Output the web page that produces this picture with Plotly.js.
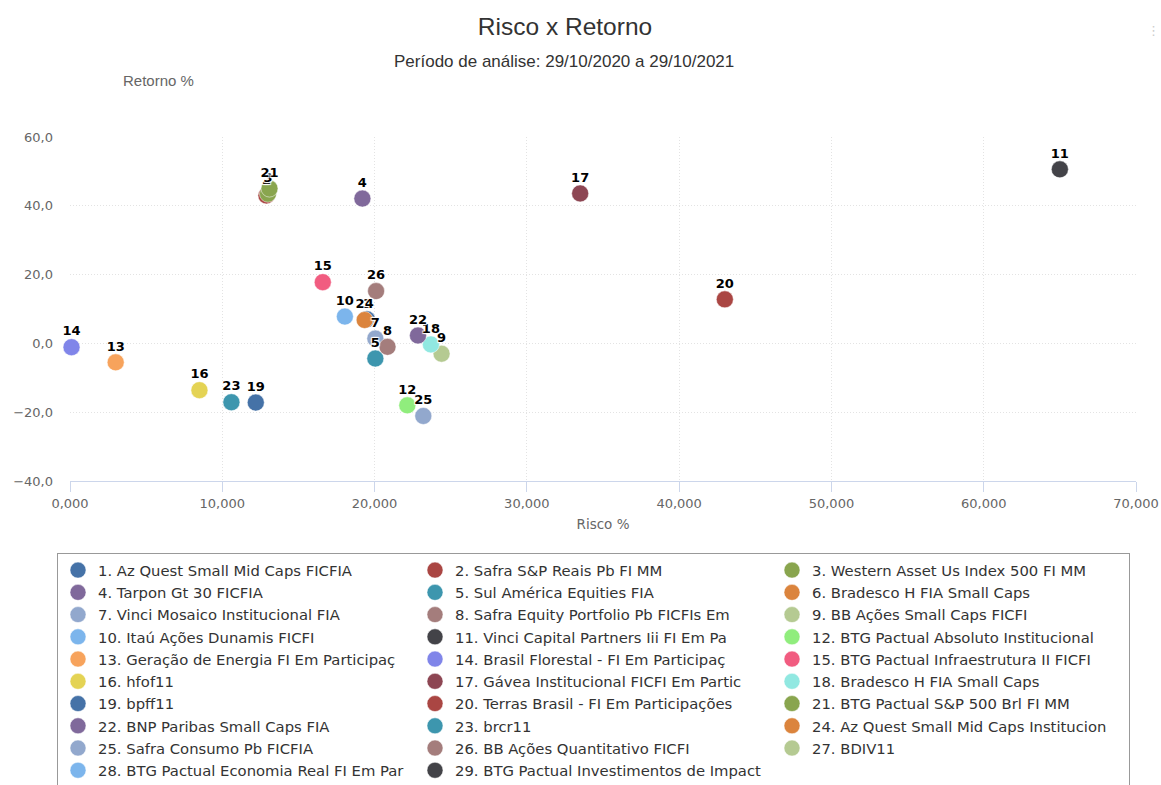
<!DOCTYPE html>
<html>
<head>
<meta charset="utf-8">
<script src="https://cdn.plot.ly/plotly-3.0.1.min.js"></script>
<style>
  html, body { margin: 0; padding: 0; background: #fff; }
  #chart { width: 1161px; height: 785px; }
</style>
</head>
<body>
<div id="chart"></div>
<script>
// fund names, in legend order (1..29)
const fundNames = [
  "Az Quest Small Mid Caps FICFIA",
  "Safra S&P Reais Pb FI MM",
  "Western Asset Us Index 500 FI MM",
  "Tarpon Gt 30 FICFIA",
  "Sul América Equities FIA",
  "Bradesco H FIA Small Caps",
  "Vinci Mosaico Institucional FIA",
  "Safra Equity Portfolio Pb FICFIs Em",
  "BB Ações Small Caps FICFI",
  "Itaú Ações Dunamis FICFI",
  "Vinci Capital Partners Iii FI Em Pa",
  "BTG Pactual Absoluto Institucional",
  "Geração de Energia FI Em Participaç",
  "Brasil Florestal - FI Em Participaç",
  "BTG Pactual Infraestrutura II FICFI",
  "hfof11",
  "Gávea Institucional FICFI Em Partic",
  "Bradesco H FIA Small Caps",
  "bpff11",
  "Terras Brasil - FI Em Participações",
  "BTG Pactual S&P 500 Brl FI MM",
  "BNP Paribas Small Caps FIA",
  "brcr11",
  "Az Quest Small Mid Caps Institucion",
  "Safra Consumo Pb FICFIA",
  "BB Ações Quantitativo FICFI",
  "BDIV11",
  "BTG Pactual Economia Real FI Em Par",
  "BTG Pactual Investimentos de Impact",
];

// risk % (x) and return % (y) per fund; null = not plotted
const risco = [
  19.5, 12.9, 13.0, 19.2, 20.05, null, 20.05, 20.85, 24.4, 18.05,
  65.0, 22.15, 3.0, 0.1, 16.6, 8.5, 33.5, 23.7, 12.2, 43.0,
  13.1, 22.85, 10.6, 19.35, 23.2, 20.1, null, null, null,
];
const retorno = [
  7.0, 43.0, 43.5, 42.1, -4.4, null, 1.4, -1.0, -3.0, 7.8,
  50.6, -18.0, -5.5, -1.1, 17.8, -13.6, 43.6, -0.3, -17.2, 12.8,
  45.0, 2.3, -17.1, 6.8, -21.1, 15.2, null, null, null,
];

const palette = [
  "#4572A7", "#AA4643", "#89A54E", "#80699B", "#3D96AE", "#DB843D",
  "#92A8CD", "#A47D7C", "#B5CA92", "#7cb5ec", "#434348", "#90ed7d",
  "#f7a35c", "#8085e9", "#f15c80", "#e4d354", "#8d4653", "#91e8e1",
];

const LABEL_OUTLINE =
  "1px 1px 1px #fff, -1px -1px 1px #fff, 1px -1px 1px #fff, -1px 1px 1px #fff";

// one marker trace per fund (these make the legend)
const markerTraces = fundNames.map((name, i) => ({
  type: "scatter",
  mode: "markers",
  name: `${i + 1}. ${name}`,
  x: [risco[i]],
  y: [retorno[i]],
  marker: {
    size: 17,
    color: palette[i % palette.length],
    line: { color: "#fff", width: 0.5 },
  },
  cliponaxis: false,
  hovertemplate: "Risco %{x:.3f}<br>Retorno %{y:.1f}<extra></extra>",
}));

// data labels sit above every marker, like the original chart
const labelTraces = fundNames.map((name, i) => ({
  type: "scatter",
  mode: "markers+text",
  showlegend: false,
  hoverinfo: "skip",
  x: [risco[i]],
  y: [retorno[i]],
  text: [String(i + 1)],
  textposition: "top center",
  textfont: {
    family: "DejaVu Sans, sans-serif",
    size: 13,
    color: "#000",
    weight: "bold",
    shadow: LABEL_OUTLINE,
  },
  marker: { size: 12, opacity: 0, color: "#fff" },
  cliponaxis: false,
}));

const TICK_FONT = { family: "DejaVu Sans, sans-serif", size: 13, color: "#666" };

const layout = {
  width: 1161,
  height: 785,
  paper_bgcolor: "#fff",
  plot_bgcolor: "#fff",
  separators: ",.",
  margin: { l: 70, r: 25, t: 137, b: 304, autoexpand: false },
  title: {
    text: "Risco x Retorno",
    x: 565 / 1161,
    xref: "container",
    xanchor: "center",
    y: 1 - 26 / 785,
    yref: "container",
    yanchor: "middle",
    font: { family: "Liberation Sans Narrow, Arial Narrow, sans-serif", size: 24.5, color: "#333" },
  },
  xaxis: {
    range: [0, 70],
    dtick: 10,
    tickformat: ".3f",
    showgrid: true,
    gridcolor: "#e3e3e3",
    griddash: "1px,2px",
    zeroline: false,
    showline: true,
    linecolor: "#ccd6eb",
    ticks: "outside",
    ticklen: 10,
    tickcolor: "#ccd6eb",
    tickfont: TICK_FONT,
    title: { text: "Risco %", font: { family: "DejaVu Sans, sans-serif", size: 13.5, color: "#666" }, standoff: 9 },
  },
  yaxis: {
    range: [-40, 60],
    dtick: 20,
    tickformat: ".1f",
    showgrid: true,
    gridcolor: "#e3e3e3",
    griddash: "1px,2px",
    zeroline: false,
    showline: false,
    ticks: "",
    ticklabelstandoff: 16,
    tickfont: TICK_FONT,
  },
  showlegend: true,
  legend: {
    orientation: "h",
    xref: "paper",
    yref: "paper",
    x: (57 - 70) / 1066,
    xanchor: "left",
    y: (481 - 553) / 344,
    yanchor: "top",
    entrywidth: 312,
    entrywidthmode: "pixels",
    bgcolor: "#fff",
    bordercolor: "#999",
    borderwidth: 1,
    font: { family: "DejaVu Sans, sans-serif", size: 14.8, color: "#333" },
    itemclick: false,
    itemdoubleclick: false,
  },
  annotations: [
    {
      text: "Período de análise: 29/10/2020 a 29/10/2021",
      xref: "paper", yref: "paper",
      x: (564 - 70) / 1066, y: (481 - 61) / 344,
      xanchor: "center", yanchor: "middle",
      showarrow: false,
      font: { family: "Liberation Sans Narrow, Arial Narrow, sans-serif", size: 17, color: "#333" },
    },
    {
      text: "Retorno %",
      xref: "paper", yref: "paper",
      x: (121 - 70) / 1066, y: (481 - 81) / 344,
      xanchor: "left", yanchor: "middle",
      showarrow: false,
      font: { family: "Liberation Sans Narrow, Arial Narrow, sans-serif", size: 15, color: "#666" },
    },
    {
      text: "⋮",
      xref: "paper", yref: "paper",
      x: (1153 - 70) / 1066, y: (481 - 31) / 344,
      xanchor: "center", yanchor: "middle",
      showarrow: false,
      font: { family: "DejaVu Sans, sans-serif", size: 13, color: "#ccc" },
    },
  ],
};

Plotly.newPlot("chart", markerTraces.concat(labelTraces), layout, { displayModeBar: false, responsive: false });
</script>
</body>
</html>
